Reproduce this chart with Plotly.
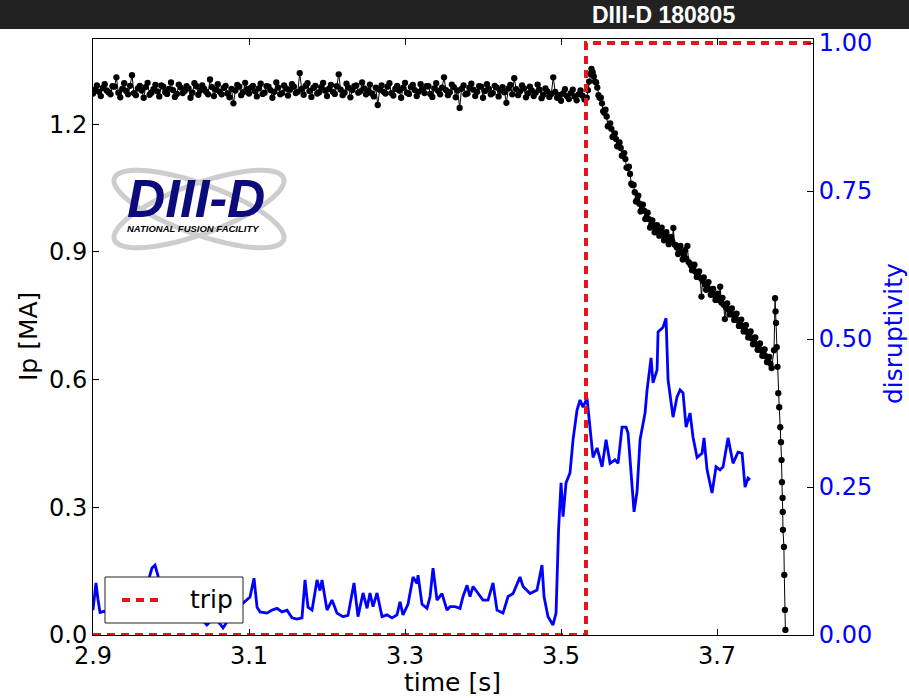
import numpy as np
import plotly.graph_objects as go

# ---------------- data ----------------
# Plasma current Ip [MA], flat-top, samples on a 5 ms grid (2.900 ... 3.530 s)
ip_flat_t = np.round(np.arange(2.900, 3.5301, 0.005), 4)
ip_flat = [
    1.272, 1.291, 1.266, 1.294, 1.275, 1.289, 1.310, 1.263, 1.296, 1.270,
    1.315, 1.268, 1.290, 1.262, 1.297, 1.274, 1.292, 1.265, 1.288, 1.271,
    1.298, 1.264, 1.293, 1.273, 1.289, 1.262, 1.296, 1.269, 1.291, 1.276,
    1.305, 1.266, 1.294, 1.270, 1.290, 1.263, 1.249, 1.292, 1.268, 1.297,
    1.272, 1.290, 1.265, 1.295, 1.274, 1.288, 1.262, 1.298, 1.270, 1.291,
    1.267, 1.294, 1.273, 1.320, 1.269, 1.296, 1.264, 1.290, 1.275, 1.297,
    1.266, 1.292, 1.271, 1.317, 1.268, 1.295, 1.263, 1.289, 1.274, 1.298,
    1.270, 1.293, 1.265, 1.245, 1.291, 1.272, 1.296, 1.267, 1.290, 1.262,
    1.297, 1.271, 1.292, 1.266, 1.294, 1.273, 1.289, 1.264, 1.296, 1.270,
    1.310, 1.268, 1.293, 1.263, 1.238, 1.291, 1.272, 1.295, 1.266, 1.289,
    1.262, 1.294, 1.270, 1.290, 1.265, 1.287, 1.250, 1.292, 1.308, 1.268,
    1.291, 1.263, 1.288, 1.266, 1.293, 1.261, 1.284, 1.264, 1.310, 1.262,
    1.255, 1.282, 1.259, 1.281, 1.256, 1.279, 1.258,
]
# flat-top samples in between (2.9025 ... 3.5275 s)
ip_flat_mid_t = np.round(np.arange(2.9025, 3.5276, 0.005), 4)
ip_flat_mid = [
    1.281, 1.276, 1.285, 1.279, 1.270, 1.288, 1.274, 1.283, 1.278, 1.290,
    1.273, 1.284, 1.279, 1.287, 1.269, 1.282, 1.277, 1.291, 1.275, 1.283,
    1.280, 1.271, 1.286, 1.278, 1.284, 1.274, 1.289, 1.279, 1.283, 1.270,
    1.287, 1.281, 1.276, 1.285, 1.272, 1.283, 1.279, 1.288, 1.275, 1.282,
    1.286, 1.277, 1.284, 1.271, 1.289, 1.280, 1.276, 1.286, 1.273, 1.284,
    1.281, 1.288, 1.276, 1.283, 1.290, 1.278, 1.285, 1.272, 1.287, 1.279,
    1.283, 1.276, 1.289, 1.281, 1.274, 1.286, 1.280, 1.291, 1.277, 1.284,
    1.279, 1.272, 1.286, 1.281, 1.276, 1.288, 1.273, 1.283, 1.279, 1.285,
    1.274, 1.287, 1.280, 1.276, 1.282, 1.289, 1.271, 1.284, 1.278, 1.286,
    1.280, 1.275, 1.287, 1.279, 1.283, 1.270, 1.285, 1.281, 1.276, 1.288,
    1.278, 1.283, 1.273, 1.286, 1.279, 1.275, 1.284, 1.270, 1.282, 1.277,
    1.284, 1.272, 1.279, 1.274, 1.281, 1.269, 1.277, 1.271, 1.276, 1.268,
    1.272, 1.266, 1.273, 1.265, 1.270, 1.267,
]
# current ramp-down, 3 ms grid (3.533 ... 3.770 s)
ip_ramp_t = np.round(np.arange(3.533, 3.7705, 0.003), 4)
ip_ramp = [
    1.262, 1.300, 1.330, 1.312, 1.298, 1.268, 1.262, 1.230, 1.234, 1.195,
    1.202, 1.170, 1.178, 1.148, 1.157, 1.126, 1.132, 1.098, 1.100, 1.060,
    1.057, 1.018, 1.032, 0.995, 1.011, 0.977, 0.992, 0.957, 0.974, 0.946,
    0.963, 0.938, 0.957, 0.927, 0.946, 0.918, 0.935, 0.956, 0.916, 0.895,
    0.914, 0.882, 0.904, 0.914, 0.873, 0.857, 0.870, 0.841, 0.854, 0.795,
    0.840, 0.811, 0.829, 0.799, 0.813, 0.787, 0.802, 0.818, 0.792, 0.742,
    0.779, 0.753, 0.767, 0.740, 0.755, 0.726, 0.741, 0.713, 0.728, 0.699,
    0.713, 0.683, 0.699, 0.670, 0.685, 0.656, 0.671, 0.641, 0.653, 0.627,
]
# ramp-down samples in between (3.5345 ... 3.7685 s)
ip_ramp_mid_t = np.round(np.arange(3.5345, 3.7686, 0.003), 4)
ip_ramp_mid = [
    1.280, 1.318, 1.322, 1.300, 1.286, 1.262, 1.249, 1.227, 1.218, 1.196,
    1.189, 1.170, 1.165, 1.149, 1.144, 1.126, 1.118, 1.097, 1.083, 1.057,
    1.040, 1.022, 1.013, 1.000, 0.997, 0.981, 0.977, 0.963, 0.963, 0.952,
    0.953, 0.944, 0.944, 0.934, 0.934, 0.925, 0.925, 0.917, 0.910, 0.903,
    0.899, 0.889, 0.884, 0.876, 0.868, 0.862, 0.853, 0.846, 0.839, 0.832,
    0.824, 0.818, 0.812, 0.804, 0.799, 0.792, 0.787, 0.781, 0.776, 0.769,
    0.764, 0.758, 0.752, 0.746, 0.739, 0.732, 0.726, 0.719, 0.712, 0.705,
    0.697, 0.690, 0.683, 0.676, 0.669, 0.662, 0.655, 0.646, 0.637,
]
# current quench
ip_quench_t = [3.7730, 3.7744, 3.7750, 3.7756, 3.7765, 3.7775, 3.7785, 3.7797,
               3.7810, 3.7819, 3.7827, 3.7832, 3.7840, 3.7842, 3.7845, 3.7857,
               3.7862, 3.7870, 3.7876]
ip_quench = [0.669, 0.791, 0.760, 0.733, 0.676, 0.630, 0.568, 0.535,
             0.488, 0.453, 0.411, 0.359, 0.322, 0.289, 0.247, 0.207,
             0.141, 0.059, 0.012]

# Disruptivity
disr_t = [
    2.9000, 2.9038, 2.9064, 2.9090, 2.9140, 2.9220, 2.9350, 2.9470, 2.9600, 2.9705,
    2.9756, 2.9795, 2.9833, 2.9880, 3.0000, 3.0150, 3.0250, 3.0370, 3.0460, 3.0560,
    3.0667, 3.0756, 3.0846, 3.0923, 3.1013, 3.1064, 3.1103, 3.1141, 3.1231, 3.1295,
    3.1359, 3.1423, 3.1487, 3.1551, 3.1615, 3.1679, 3.1718, 3.1756, 3.1808, 3.1872,
    3.1910, 3.1936, 3.2000, 3.2064, 3.2128, 3.2205, 3.2269, 3.2346, 3.2397, 3.2462,
    3.2513, 3.2551, 3.2590, 3.2641, 3.2705, 3.2769, 3.2833, 3.2897, 3.2936, 3.2974,
    3.3038, 3.3103, 3.3154, 3.3167, 3.3218, 3.3282, 3.3321, 3.3359, 3.3410, 3.3474,
    3.3538, 3.3577, 3.3641, 3.3705, 3.3744, 3.3795, 3.3833, 3.3872, 3.3936, 3.4000,
    3.4064, 3.4128, 3.4179, 3.4256, 3.4321, 3.4385, 3.4474, 3.4513, 3.4603, 3.4692,
    3.4756, 3.4782, 3.4833, 3.4897, 3.4936, 3.4949, 3.4968, 3.5000, 3.5026, 3.5064,
    3.5115, 3.5154, 3.5205, 3.5244, 3.5282, 3.5333, 3.5372, 3.5410, 3.5462, 3.5526,
    3.5577, 3.5628, 3.5692, 3.5731, 3.5782, 3.5833, 3.5859, 3.5910, 3.5936, 3.5974,
    3.6013, 3.6077, 3.6103, 3.6154, 3.6179, 3.6231, 3.6244, 3.6308, 3.6346, 3.6372,
    3.6436, 3.6487, 3.6526, 3.6564, 3.6603, 3.6654, 3.6692, 3.6744, 3.6808, 3.6833,
    3.6872, 3.6936, 3.6987, 3.7038, 3.7077, 3.7141, 3.7205, 3.7269, 3.7321, 3.7359,
    3.7397, 3.7423,
]
disr = [
    0.042, 0.088, 0.060, 0.038, 0.040, 0.035, 0.045, 0.050, 0.060, 0.090,
    0.113, 0.118, 0.100, 0.060, 0.040, 0.035, 0.030, 0.030, 0.017, 0.030,
    0.012, 0.030, 0.045, 0.054, 0.064, 0.096, 0.047, 0.039, 0.037, 0.042,
    0.045, 0.039, 0.042, 0.029, 0.027, 0.029, 0.093, 0.047, 0.042, 0.093,
    0.075, 0.093, 0.042, 0.059, 0.037, 0.031, 0.033, 0.088, 0.031, 0.071,
    0.045, 0.071, 0.048, 0.071, 0.031, 0.034, 0.029, 0.034, 0.056, 0.034,
    0.052, 0.098, 0.087, 0.101, 0.052, 0.045, 0.065, 0.113, 0.059, 0.070,
    0.042, 0.048, 0.048, 0.045, 0.065, 0.084, 0.065, 0.082, 0.070, 0.059,
    0.059, 0.088, 0.042, 0.037, 0.065, 0.070, 0.098, 0.082, 0.070, 0.076,
    0.118, 0.065, 0.031, 0.017, 0.037, 0.093, 0.177, 0.257, 0.200, 0.257,
    0.274, 0.330, 0.380, 0.397, 0.385, 0.400, 0.351, 0.300, 0.316, 0.284,
    0.330, 0.290, 0.296, 0.290, 0.351, 0.351, 0.341, 0.245, 0.208, 0.242,
    0.330, 0.375, 0.414, 0.468, 0.426, 0.448, 0.512, 0.520, 0.535, 0.431,
    0.368, 0.402, 0.414, 0.409, 0.351, 0.375, 0.334, 0.300, 0.307, 0.333,
    0.279, 0.240, 0.284, 0.279, 0.284, 0.333, 0.290, 0.309, 0.307, 0.250,
    0.265, 0.262,
]

# Trip signal
trip_t = [2.900, 3.532, 3.532, 3.823]
trip_v = [0.0, 0.0, 1.0, 1.0]

x_ticks = [2.9, 3.1, 3.3, 3.5, 3.7]
x_ticktext = ["2.9", "3.1", "3.3", "3.5", "3.7"]
y1_ticks = [0.0, 0.3, 0.6, 0.9, 1.2]
y1_ticktext = ["0.0", "0.3", "0.6", "0.9", "1.2"]
y2_ticks = [0.0, 0.25, 0.5, 0.75, 1.0]
y2_ticktext = ["0.00", "0.25", "0.50", "0.75", "1.00"]

# merge all Ip samples in time order
all_t = np.concatenate([ip_flat_t, ip_flat_mid_t, ip_ramp_t, ip_ramp_mid_t, ip_quench_t])
all_v = np.concatenate([ip_flat, ip_flat_mid, ip_ramp, ip_ramp_mid, ip_quench])
order = np.argsort(all_t, kind="stable")
ip_t = all_t[order]
ip_v = all_v[order]

FONT = "DejaVu Sans"
RED = "#e8141c"
BLUE = "#0000ff"

fig = go.Figure()
fig.add_trace(go.Scatter(
    x=ip_t, y=ip_v, mode="lines+markers", yaxis="y",
    line=dict(color="black", width=1),
    marker=dict(color="black", size=6.3),
    showlegend=False, hoverinfo="skip"))
fig.add_trace(go.Scatter(
    x=disr_t, y=disr, mode="lines", yaxis="y2",
    line=dict(color=BLUE, width=2.8),
    showlegend=False, hoverinfo="skip"))
fig.add_trace(go.Scatter(
    x=trip_t, y=trip_v, mode="lines", yaxis="y2", name="trip",
    line=dict(color=RED, width=4, dash="8px,6px"),
    showlegend=False, hoverinfo="skip"))

# geometry helpers (plot area in pixels)
L, R, T, B = 93, 813, 39, 635
def px(x):
    return (x - L) / (R - L)
def py(y):
    return (B - y) / (B - T)

def ellipse_path(cx, cy, a, b, ang):
    th = np.linspace(0, 2 * np.pi, 90)
    c, s = np.cos(np.radians(ang)), np.sin(np.radians(ang))
    xs = cx + a * np.cos(th) * c - b * np.sin(th) * s
    ys = cy + a * np.cos(th) * s + b * np.sin(th) * c
    pts = [f"{px(x):.5f},{py(y):.5f}" for x, y in zip(xs, ys)]
    return "M" + " L".join(pts) + " Z"

shapes = [
    # dark title bar
    dict(type="rect", xref="paper", yref="paper", x0=px(0), x1=px(909),
         y0=py(29), y1=py(0), fillcolor="#222222", line=dict(width=0), layer="above"),
    # logo orbits
    dict(type="path", xref="paper", yref="paper", path=ellipse_path(199, 209, 90, 25, -20),
         line=dict(color="#cdcdcd", width=5), layer="above"),
    dict(type="path", xref="paper", yref="paper", path=ellipse_path(199, 209, 90, 25, 20),
         line=dict(color="#cdcdcd", width=5), layer="above"),
    # legend box
    dict(type="rect", xref="paper", yref="paper", x0=px(105), x1=px(243),
         y0=py(623), y1=py(577), fillcolor="white",
         line=dict(color="#222222", width=1), layer="above"),
    dict(type="line", xref="paper", yref="paper", x0=px(122), x1=px(162),
         y0=py(600), y1=py(600), line=dict(color=RED, width=4, dash="8px,6px"),
         layer="above"),
]

annotations = [
    dict(text="<b>DIII-D 180805</b>", x=px(663), y=py(15), xref="paper", yref="paper",
         xanchor="center", yanchor="middle", showarrow=False,
         font=dict(family="Liberation Sans", size=23, color="white")),
    dict(text="DIII-D", x=px(196), y=py(199), xref="paper", yref="paper",
         xanchor="center", yanchor="middle", showarrow=False,
         font=dict(family="Liberation Sans", size=53, color="#0b0b7c",
                   weight="bold", style="italic")),
    dict(text="NATIONAL FUSION FACILITY", x=px(193), y=py(228), xref="paper", yref="paper",
         xanchor="center", yanchor="middle", showarrow=False,
         font=dict(family="Liberation Sans", size=9.5, color="black",
                   weight="bold", style="italic")),
    dict(text="trip", x=px(188), y=py(599), xref="paper", yref="paper",
         xanchor="left", yanchor="middle", showarrow=False,
         font=dict(family=FONT, size=25, color="black")),
    dict(text="Ip [MA]", x=px(28), y=0.5, xref="paper", yref="paper",
         xanchor="center", yanchor="middle", showarrow=False,
         textangle=-90, font=dict(family=FONT, size=25, color="black")),
    dict(text="disruptivity", x=px(893), y=0.505, xref="paper", yref="paper",
         xanchor="center", yanchor="middle", showarrow=False,
         textangle=-90, font=dict(family=FONT, size=25, color=BLUE)),
    dict(text="time [s]", x=px(452), y=py(682), xref="paper", yref="paper",
         xanchor="center", yanchor="middle", showarrow=False,
         font=dict(family=FONT, size=25, color="black")),
]

fig.update_layout(
    width=909, height=698,
    margin=dict(l=L, r=909 - R, t=T, b=698 - B),
    paper_bgcolor="white", plot_bgcolor="white",
    font=dict(family=FONT, size=24, color="black"),
    xaxis=dict(range=[2.9, 3.823], tickvals=x_ticks, ticktext=x_ticktext,
               showgrid=False, zeroline=False, showline=True, linecolor="black",
               linewidth=1, mirror="ticks", ticks="inside", ticklen=6,
               tickcolor="black", tickfont=dict(size=24, color="black"),
               ticklabelstandoff=-1),
    yaxis=dict(range=[0, 1.4], tickvals=y1_ticks, ticktext=y1_ticktext,
               showgrid=False, zeroline=False, showline=True, linecolor="black",
               linewidth=1, ticks="inside", ticklen=6, tickcolor="black",
               tickfont=dict(size=24, color="black")),
    yaxis2=dict(range=[0, 1.0068], tickvals=y2_ticks, ticktext=y2_ticktext,
                overlaying="y", side="right", showgrid=False, zeroline=False,
                showline=True, linecolor="black", linewidth=1, ticks="inside",
                ticklen=6, tickcolor="black",
                tickfont=dict(size=24, color=BLUE)),
    shapes=shapes, annotations=annotations,
    showlegend=False,
)

fig.write_html("out.html", config={"displayModeBar": False},
               post_script="document.body.style.margin='0px';")
